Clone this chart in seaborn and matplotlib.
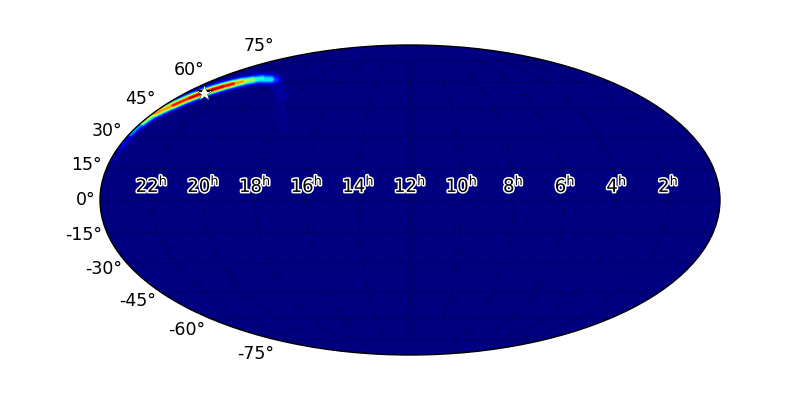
import numpy as np
import pandas as pd
import matplotlib
matplotlib.use('Agg')
import matplotlib.pyplot as plt
import matplotlib.patheffects as pe
from matplotlib.transforms import ScaledTranslation
import seaborn as sns

# ridge of the probability band (degrees)
ridge_lon = [-179, -179, -180, -179.5, -178.5, -174, -170, -166, -163, -159.5, -155, -150.5, -144, -137.5, -130, -123]
ridge_lat = [19, 26, 32, 37.5, 42, 46.5, 50.5, 53.7, 55.5, 57.2, 58.9, 60.2, 61.3, 62, 62, 61.4]
ridge_peak = [0.05, 0.14, 0.35, 0.62, 0.8, 0.92, 0.98, 1.0, 1.0, 1.0, 0.95, 0.8, 0.6, 0.45, 0.4, 0.2]
ridge_sigma = [6.0, 6.0, 5.5, 5.0, 5.0, 5.0, 5.0, 5.0, 5.0, 5.0, 5.0, 5.2, 5.6, 6.2, 6.4, 6.0]

# faint plume under the end of the band
plume_lon = [-121, -101, -84]
plume_lat = [61, 52, 36]
plume_peak = [0.08, 0.045, 0.02]
plume_sigma = [9.0, 10.0, 10.0]

star_lon = [-166]
star_lat = [53.7]

ra_labels = ['22', '20', '18', '16', '14', '12', '10', '8', '6', '4', '2']

jet = plt.get_cmap('jet')
levels = [0.01, 0.02, 0.03, 0.05, 0.07, 0.1, 0.13, 0.16, 0.2, 0.25, 0.3, 0.35, 0.4, 0.45,
          0.5, 0.55, 0.6, 0.65, 0.7, 0.75, 0.8, 0.85, 0.9, 0.95]


def draw_band(ax, lon, lat, peak, sigma, level):
    # one colour level of the band, segment by segment so the width can change
    df = pd.DataFrame({'lon': np.radians(lon), 'lat': np.radians(lat)})
    for i in range(len(df) - 1):
        p = min(peak[i], peak[i + 1])
        if p <= level:
            continue
        w = (sigma[i] + sigma[i + 1]) / 2 * np.sqrt(np.log(p / level))
        sns.lineplot(data=df.iloc[i:i + 2], x='lon', y='lat', sort=False, estimator=None,
                     color=jet(level), lw=w, solid_capstyle='round', ax=ax, zorder=1.2)


sns.set_style('white')
plt.rcParams['font.family'] = ['DejaVu Sans']

fig = plt.figure(figsize=(8, 4), dpi=100)
ax = fig.add_axes([0.125, 0.1125, 0.775, 0.775], projection='mollweide')
ax.set_facecolor(jet(0.0))

for level in levels:
    draw_band(ax, plume_lon, plume_lat, plume_peak, plume_sigma, level)
    draw_band(ax, ridge_lon, ridge_lat, ridge_peak, ridge_sigma, level)

sns.scatterplot(x=np.radians(star_lon), y=np.radians(star_lat), marker='*', s=150, color='white',
                edgecolor='black', linewidth=0.3, ax=ax, zorder=5)

ax.set_xlabel('')
ax.set_ylabel('')
ax.grid(True, color='black', linestyle=(0, (1, 3)), linewidth=0.6)
ax.set_xticklabels(['$%s^{\\mathrm{h}}$' % s for s in ra_labels], color='black', fontsize=13,
                   path_effects=[pe.withStroke(linewidth=2.2, foreground='white')])
ax.tick_params(axis='y', labelsize=12.5, colors='black')
# lat labels sit a little closer to the rim in the original
shift = ScaledTranslation(3.5 / 100, 0, fig.dpi_scale_trans)
for lab in ax.get_yticklabels():
    lab.set_transform(lab.get_transform() + shift)
for s in ax.spines.values():
    s.set_edgecolor('black')
    s.set_linewidth(1)

fig.savefig('out.png', dpi=100)
